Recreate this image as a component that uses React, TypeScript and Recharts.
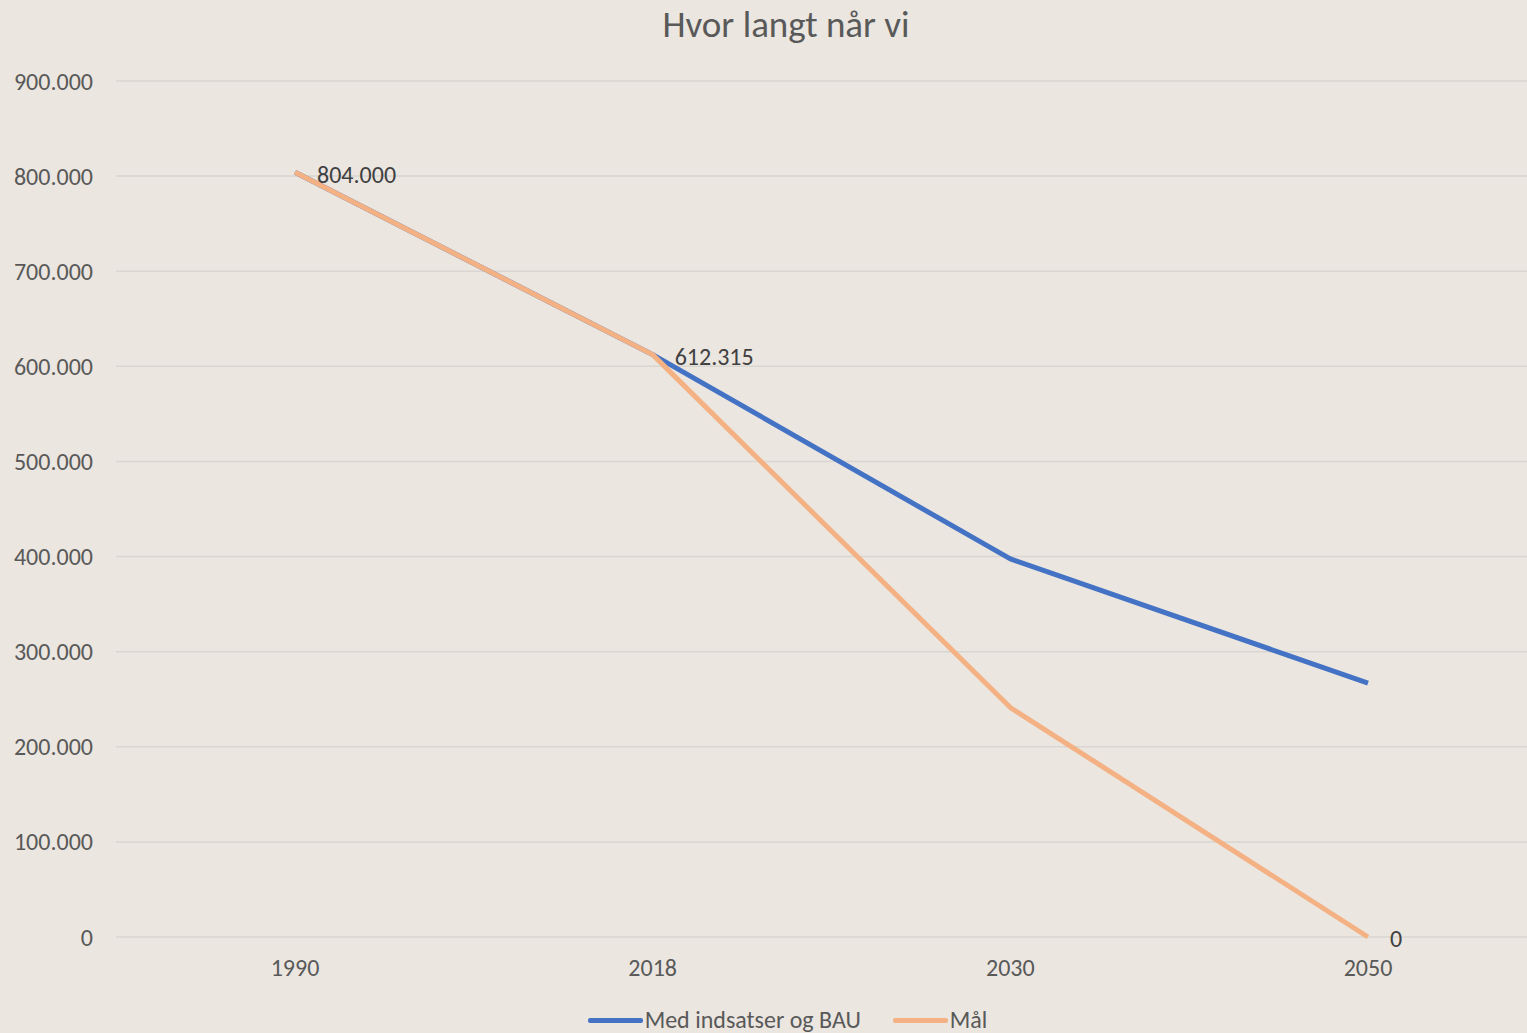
import { LineChart, Line, XAxis, YAxis, CartesianGrid, Legend, LabelList } from 'recharts'

const years = ['1990', '2018', '2030', '2050']
const medIndsatser = [804000, 612315, 397500, 267000]
const maal = [804000, 612315, 241200, 0]
const maalLabels = [true, true, false, true]
const yTicks = [0, 100000, 200000, 300000, 400000, 500000, 600000, 700000, 800000, 900000]

const BLUE = '#4472c4'
const ORANGE = '#f4b183'
const TEXT = '#595959'
const FONT = 'Carlito, "Open Sans", sans-serif'
const FS = 24

const data = years.map((year, i) => ({
  year,
  med: medIndsatser[i],
  maal: maal[i],
}))

const formatNumber = (value: number) =>
  String(Math.round(value)).replace(/\B(?=(\d{3})+(?!\d))/g, '.')

function PointLabel(props: any) {
  const { x, y, value, index } = props
  if (!maalLabels[index]) return null
  return (
    <text x={x + 22} y={y + 2} dy="0.35em" fill="#404040" fontSize={FS} fontFamily={FONT}>
      {formatNumber(Number(value))}
    </text>
  )
}

function LegendContent() {
  const items = [
    { name: 'Med indsatser og BAU', color: BLUE },
    { name: 'Mål', color: ORANGE },
  ]
  return (
    <div style={{ display: 'flex', justifyContent: 'center', alignItems: 'center', height: 24, paddingTop: 25 }}>
      {items.map((item, i) => (
        <div key={item.name} style={{ display: 'flex', alignItems: 'center', marginLeft: i ? 32 : 0 }}>
          <span style={{ width: 55, height: 5, background: item.color, borderRadius: 2, marginRight: 2 }} />
          <span style={{ fontSize: FS, lineHeight: '24px', color: TEXT, fontFamily: FONT }}>{item.name}</span>
        </div>
      ))}
    </div>
  )
}

export default function App() {
  return (
    <div
      style={{
        position: 'fixed',
        top: 0,
        left: 0,
        width: 1527,
        height: 1033,
        overflow: 'hidden',
        background: '#ebe6e0',
      }}
    >
      <div
        style={{
          position: 'absolute',
          top: 6,
          left: 0,
          width: 1572,
          textAlign: 'center',
          fontFamily: FONT,
          fontSize: 37,
          lineHeight: '37px',
          color: TEXT,
        }}
      >
        Hvor langt når vi
      </div>
      <LineChart
        width={1575}
        height={1033}
        data={data}
        margin={{ top: 81, right: 28, bottom: 0, left: 0 }}
      >
        <CartesianGrid vertical={false} stroke="#d9d6d2" strokeWidth={1.5} />
        <XAxis
          dataKey="year"
          axisLine={false}
          tickLine={false}
          tickMargin={16}
          height={46}
          padding={{ left: 179, right: 179 }}
          tick={{ fill: TEXT, fontSize: FS, fontFamily: FONT }}
        />
        <YAxis
          width={116}
          domain={[0, 900000]}
          ticks={yTicks}
          axisLine={false}
          tickLine={false}
          tickMargin={17}
          tickFormatter={formatNumber}
          tick={{ fill: TEXT, fontSize: FS, fontFamily: FONT }}
        />
        <Legend
          verticalAlign="bottom"
          content={<LegendContent />}
          wrapperStyle={{ height: 50, width: 1575, left: 0, bottom: 0 }}
        />
        <Line
          dataKey="med"
          name="Med indsatser og BAU"
          stroke={BLUE}
          strokeWidth={5}
          strokeLinejoin="round"
          dot={false}
          activeDot={false}
          isAnimationActive={false}
        />
        <Line
          dataKey="maal"
          name="Mål"
          stroke={ORANGE}
          strokeWidth={5}
          strokeLinejoin="round"
          dot={false}
          activeDot={false}
          isAnimationActive={false}
        >
          <LabelList dataKey="maal" content={<PointLabel />} />
        </Line>
      </LineChart>
    </div>
  )
}
